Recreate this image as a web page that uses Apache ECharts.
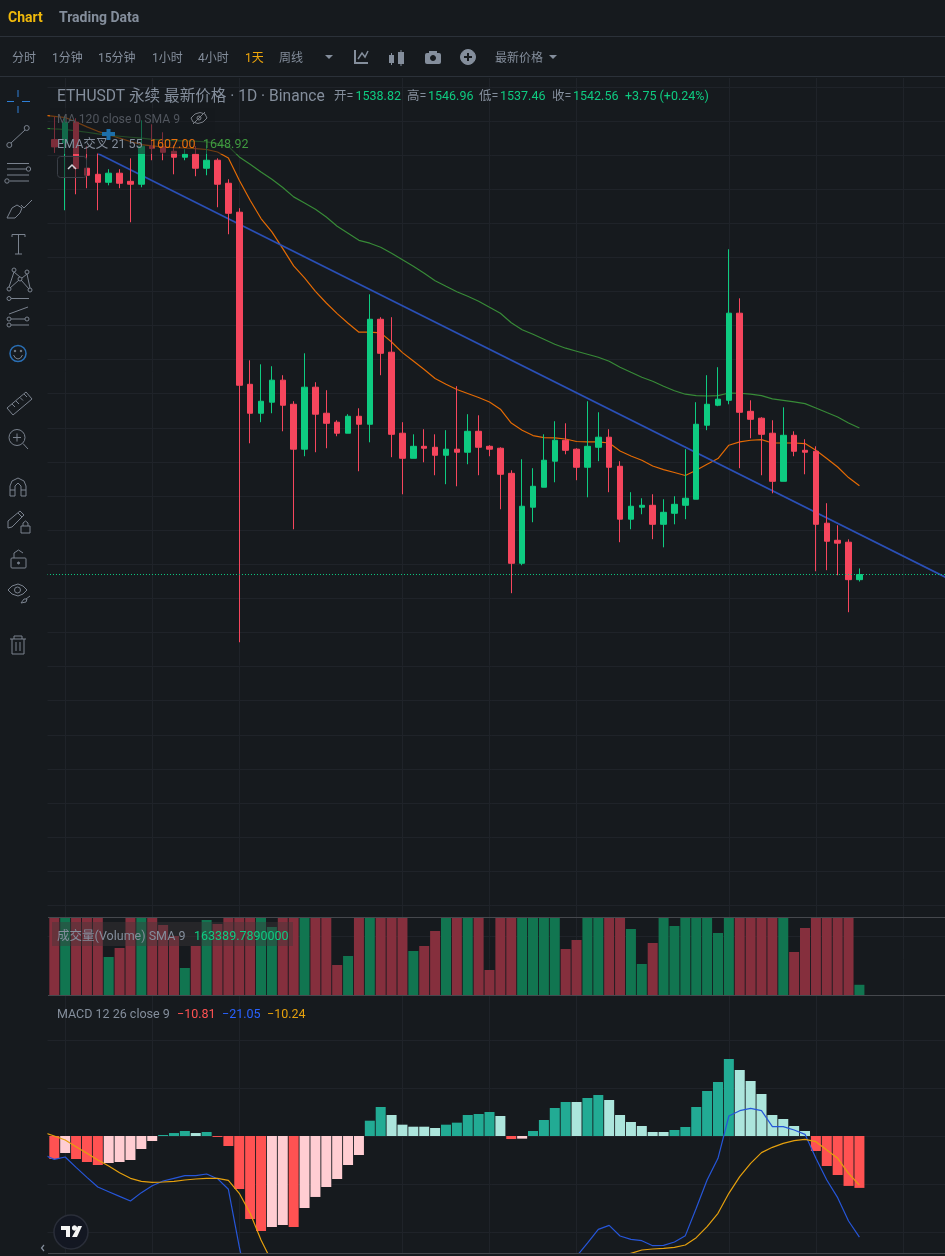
<!DOCTYPE html>
<html lang="zh">
<head>
<meta charset="utf-8"/>
<title>ETHUSDT</title>
<script src="https://cdn.jsdelivr.net/npm/echarts@6/dist/echarts.min.js"></script>
<style>
    html, body { margin: 0; height: 100%; background: #161A1E; }
    #chart { width: 945px; height: 1256px; }
</style>
</head>
<body>
<div id="chart"></div>
<script>
// 84 slots: one hidden behind the tool bar, 75 daily candles, the rest is empty space on the right
var categories = []
for (var n = 0; n < 84; n++) categories.push(String(n))

var opens = [1858.2,1855.8,1870.8,1837.4,1833.0,1827.2,1833.8,1827.9,1825.8,1853.4,1852.9,1849.7,1845.4,1847.5,1837.4,1843.2,1826.5,1805.5,1680.6,1659.6,1667.6,1683.6,1666.1,1633.5,1678.5,1659.6,1653.1,1645.1,1657.4,1651.6,1727.8,1703.9,1645.1,1626.9,1635.6,1634.9,1629.1,1633.5,1631.3,1646.5,1635.6,1634.2,1616.0,1550.7,1591.4,1605.9,1624.8,1640.0,1633.5,1620.4,1634.9,1642.2,1621.1,1582.7,1591.4,1592.8,1579.0,1587.0,1592.8,1597.2,1650.9,1665.4,1669.0,1732.2,1661.0,1656.0,1645.1,1610.2,1643.6,1632.7,1632.0,1579.8,1567.4,1566.0,1538.82]
var closes = [1852.9,1870.8,1837.2,1832.3,1827.2,1833.8,1826.5,1825.8,1853.4,1851.7,1849.0,1845.4,1847.5,1837.4,1843.2,1825.8,1804.7,1679.9,1659.6,1668.3,1683.6,1665.4,1633.5,1678.5,1658.9,1652.3,1645.1,1657.4,1651.6,1727.8,1703.1,1644.3,1626.9,1635.6,1634.2,1629.1,1633.5,1631.3,1646.5,1634.9,1633.5,1615.3,1550.7,1592.1,1606.6,1625.5,1640.0,1632.7,1620.4,1635.6,1642.2,1620.4,1582.7,1592.1,1592.8,1579.0,1587.7,1593.5,1597.9,1651.6,1666.1,1669.8,1732.2,1660.3,1655.2,1644.3,1610.2,1643.6,1632.0,1631.3,1579.0,1566.7,1565.3,1538.82,1542.56]
var lows = [1848.5,1806.9,1818.5,1822.9,1806.9,1825.0,1822.9,1798.2,1823.6,1843.2,1843.2,1833.0,1843.2,1831.6,1832.3,1809.1,1789.5,1493.4,1637.8,1653.1,1659.6,1646.5,1575.4,1628.4,1631.3,1634.2,1642.9,1645.1,1617.5,1638.5,1687.2,1627.7,1600.8,1626.9,1624.0,1614.6,1608.1,1606.6,1622.6,1614.6,1628.4,1589.9,1529.0,1549.3,1580.5,1605.9,1609.5,1629.8,1611.0,1598.6,1624.8,1602.3,1566.0,1575.4,1586.3,1568.2,1562.3,1579.0,1582.7,1597.2,1647.3,1664.7,1666.1,1619.7,1641.4,1614.6,1601.5,1610.2,1628.4,1615.3,1544.9,1545.7,1542.0,1515.2,1537.46]
var highs = [1874.6,1875.1,1873.7,1853.4,1848.5,1836.7,1836.7,1844.6,1872.2,1869.3,1863.5,1854.1,1851.2,1853.4,1854.1,1844.6,1829.4,1808.4,1698.0,1695.1,1693.7,1687.2,1668.3,1703.1,1682.1,1676.3,1654.5,1658.9,1663.2,1745.9,1729.3,1729.3,1653.1,1644.3,1648.0,1644.3,1647.3,1679.2,1658.9,1658.1,1636.4,1634.9,1618.2,1626.2,1619.7,1644.3,1653.8,1652.3,1634.2,1668.3,1660.3,1648.0,1624.8,1602.3,1597.9,1600.8,1597.2,1599.4,1633.5,1667.6,1687.2,1693.0,1778.6,1743.0,1669.0,1656.7,1654.5,1663.9,1646.5,1640.7,1635.6,1594.3,1578.3,1568.1,1546.96]

// lines start one slot earlier than the candles, the page cuts them at the pane edge
var ema21 = [1876.0,1875.1,1874.2,1871.0,1867.4,1864.2,1861.8,1859.2,1856.8,1854.6,1853.6,1852.8,1852.4,1852.1,1851.7,1851.0,1849.2,1844.9,1828.7,1814.2,1800.9,1791.2,1779.1,1766.5,1757.8,1748.1,1739.6,1731.9,1724.9,1718.4,1718.4,1717.9,1711.3,1703.6,1697.5,1691.3,1684.8,1680.6,1676.8,1673.9,1671.0,1667.8,1662.5,1652.5,1647.3,1643.4,1641.9,1641.7,1640.9,1639.1,1638.8,1638.8,1638.0,1632.2,1628.6,1625.5,1621.3,1618.7,1616.6,1614.4,1618.2,1622.6,1626.7,1636.4,1638.8,1640.0,1640.5,1638.0,1638.0,1638.0,1637.6,1632.7,1626.7,1620.6,1612.9,1607.0]
var ema55 = [1866.4,1865.9,1865.5,1864.5,1863.5,1862.3,1861.3,1860.6,1859.9,1859.2,1858.4,1857.9,1857.5,1857.2,1857.0,1856.5,1855.3,1853.3,1845.6,1840.3,1834.7,1829.4,1823.4,1816.6,1812.2,1807.6,1802.0,1795.3,1790.2,1785.1,1783.0,1780.1,1775.7,1771.0,1766.3,1761.2,1755.7,1751.7,1747.8,1744.5,1740.9,1736.5,1732.2,1725.3,1720.2,1716.9,1713.3,1709.7,1706.8,1704.6,1702.4,1700.2,1697.3,1693.0,1689.3,1685.7,1682.8,1679.2,1675.9,1673.4,1672.4,1672.1,1672.4,1674.3,1674.1,1673.4,1672.4,1670.0,1669.0,1667.8,1666.6,1663.4,1660.1,1656.9,1652.5,1648.92]

// hand drawn trend line: [slot, price]
var trendLine = [[5, 1848.1], [83, 1540.3]]
var lastPrice = 1542.56

// clipped bars at the pane top are a guess, only their height in the pane is readable
var volumes = [1300000,1300000,1300000,1300000,1300000,608000,752000,1300000,1300000,1300000,1120000,944000,432000,784000,1200000,1136000,1300000,1300000,1300000,1300000,1088000,1300000,1300000,1300000,1300000,1300000,480000,624000,1300000,1300000,1300000,1300000,1300000,704000,784000,1024000,1300000,1300000,1300000,1300000,400000,1300000,1300000,1300000,1300000,1300000,1300000,736000,880000,1300000,1300000,1300000,1300000,1056000,496000,832000,1300000,1104000,1300000,1300000,1300000,992000,1300000,1300000,1300000,1300000,1300000,1300000,688000,1072000,1300000,1300000,1300000,1300000,163390]

var macdHist = [-4.79,-3.54,-4.79,-5.42,-6.04,-5.63,-5.42,-5.0,-2.71,-1.04,0.21,0.62,1.04,0.62,0.83,-0.2,-2.08,-11.04,-17.3,-19.8,-18.96,-18.54,-18.96,-15.0,-12.7,-10.63,-8.96,-6.04,-3.96,3.19,6.04,4.38,2.36,1.94,1.94,1.67,2.36,2.78,4.38,4.58,5.0,4.17,-0.63,-0.55,1.04,3.33,5.83,7.08,7.08,7.92,8.54,7.5,4.38,2.92,2.08,0.83,0.83,1.25,1.88,6.04,9.38,11.25,16.04,13.75,11.46,8.75,4.38,3.54,2.08,1.04,-3.13,-6.25,-8.13,-10.4,-10.81]
var macdLine = [-3.9,-4.86,-4.38,-6.53,-8.61,-10.63,-11.6,-12.57,-13.54,-11.8,-10.35,-9.38,-8.82,-8.26,-8.26,-7.92,-8.89,-11.1,-23.06,-33.4,-41.5,-45.2,-48.5,-52.7,-52.5,-52.7,-52.8,-53,-51.2,-50,-42.2,-38.2,-38.9,-40.4,-40.5,-40,-40,-38.8,-37.9,-35.4,-34.3,-32.9,-32,-37.6,-37.5,-35.7,-32.7,-29,-26.3,-25.07,-22.3,-19.44,-18.61,-20.83,-21.53,-21.81,-22.85,-22.78,-22.08,-20.76,-15.07,-9.17,-4.65,4.17,5.28,5.76,5.28,1.94,1.94,1.25,0.35,-4.65,-9.17,-12.85,-17.71,-21.05]
var macdSignal = [0.76,0,-0.83,-2.22,-3.61,-5,-6.25,-7.64,-8.82,-9.44,-9.65,-9.58,-9.44,-9.17,-8.96,-8.82,-8.82,-9.24,-11.94,-16.11,-21.67,-26.2,-30,-33.7,-37.5,-40,-42.2,-44,-45.2,-46,-45.4,-44.2,-43.3,-42.8,-42.4,-42,-41.7,-41.2,-40.7,-39.8,-38.9,-37.9,-37.1,-37,-36.9,-36.7,-36,-34.8,-33.4,-32,-30.2,-28,-26.1,-25.2,-24.44,-23.75,-23.54,-23.4,-23.19,-22.71,-21.18,-18.89,-16.11,-11.94,-8.47,-5.69,-3.47,-2.36,-1.53,-0.97,-0.69,-1.18,-2.92,-4.65,-7.78,-10.24]

// slots that carry a vertical grid line
var gridSlots = [2, 10, 18, 33, 41, 49, 63, 71, 79]

var UP = '#0ECB81', DOWN = '#F6465D', BG = '#161A1E', GRID = '#1F2329', GREY = '#848E9C', ICON = '#7A828E'
var FONT = 'Roboto, "Noto Sans CJK SC", sans-serif'

var chart = echarts.init(document.getElementById('chart'), null, { renderer: 'canvas', width: 945, height: 1256 })

var candleData = [['-', '-', '-', '-']].concat(opens.map(function (o, i) { return [o, closes[i], lows[i], highs[i]] }))
var volumeData = ['-'].concat(volumes.map(function (v, i) {
    return { value: v, itemStyle: { color: closes[i] >= opens[i] ? '#117550' : '#852F3D' } }
}))
var histData = ['-'].concat(macdHist.map(function (v, i) {
    var prev = i > 0 ? macdHist[i - 1] : 0
    var color
    if (v >= 0) color = v > prev ? '#22AB94' : '#ACE5DC'
    else color = v < prev ? '#FF5252' : '#FFCDD2'
    return { value: v, itemStyle: { color: color } }
}))

function xAxis(idx) {
    return { type: 'category', gridIndex: idx, data: categories, show: false, boundaryGap: true }
}

function splitLine(extra) {
    return Object.assign({ show: true, lineStyle: { color: GRID, width: 1 } }, extra || {})
}

// grids run past the page on purpose, so no squeezing into the container
function pane(top, height) {
    return { left: 37.98, top: top, width: 913.92, height: height, outerBoundsMode: 'none' }
}

// chrome helpers, everything on top of the series
function text(t, x, y, font, fill, extra) {
    return Object.assign({
        type: 'text', z: 100, silent: true,
        style: { text: t, x: x, y: y + 3.5, font: font, fill: fill, verticalAlign: 'middle' }
    }, extra || {})
}
function poly(points, stroke, width) {
    return { type: 'polyline', z: 100, silent: true, shape: { points: points }, style: { stroke: stroke || ICON, lineWidth: width || 1, fill: null } }
}
function fillPoly(points, fill) {
    return { type: 'polygon', z: 100, silent: true, shape: { points: points }, style: { fill: fill } }
}
function circle(cx, cy, r, stroke, fill, width) {
    return { type: 'circle', z: 100, silent: true, shape: { cx: cx, cy: cy, r: r }, style: { stroke: stroke || ICON, fill: fill || null, lineWidth: width || 1 } }
}
function rect(x, y, w, h, fill, stroke, r) {
    return { type: 'rect', z: 100, silent: true, shape: { x: x, y: y, width: w, height: h, r: r || 0 }, style: { fill: fill || null, stroke: stroke || null, lineWidth: 1 } }
}

var B12 = '12px ' + FONT
var L12 = '12.5px ' + FONT
var graphics = [
    // masks and pane borders
    rect(0, 0, 945, 77, BG),
    rect(0, 77, 47.5, 1179, BG),
    rect(0, 1253, 945, 3, BG),
    rect(0, 36, 945, 1, '#2B3139'),
    rect(0, 76, 945, 1, '#2B3139'),
    rect(48, 917, 897, 1, '#45484D'),
    rect(48, 995, 897, 1, '#45484D'),
    rect(48, 1253, 897, 1, '#45484D'),

    // legend backgrounds dim what runs under them
    rect(50, 108, 165, 25, 'rgba(22,26,30,0.55)'),
    rect(50, 133, 200, 21, 'rgba(22,26,30,0.55)'),
    rect(57.5, 156.5, 29, 21, 'rgba(22,26,30,0.55)', '#3A3F47', 3),
    rect(52, 922, 241, 24, 'rgba(62,54,58,0.42)'),

    // top tabs
    text('Chart', 8, 15, 'bold 14px ' + FONT, '#F0B90B'),
    text('Trading Data', 59, 15, 'bold 14px ' + FONT, GREY),

    // toolbar
    text('分时', 12, 55.5, B12, GREY),
    text('1分钟', 52, 55.5, B12, GREY),
    text('15分钟', 98, 55.5, B12, GREY),
    text('1小时', 152, 55.5, B12, GREY),
    text('4小时', 198, 55.5, B12, GREY),
    text('1天', 245, 55.5, B12, '#F0A70B'),
    text('周线', 279, 55.5, B12, GREY),
    fillPoly([[325, 55], [333, 55], [329, 59]], GREY),
    text('最新价格', 495, 55.5, B12, GREY),
    fillPoly([[549, 55], [557, 55], [553, 59]], GREY),

    // chart type icons
    poly([[355, 50], [355, 63], [368, 63]], GREY, 2),
    poly([[358, 59], [362, 53], [365, 57], [368, 51]], GREY, 1.5),
    rect(389, 55, 5, 8, GREY), rect(398, 52, 6, 12, GREY),
    rect(391, 53, 1, 12, GREY), rect(400.5, 50, 1, 16, GREY),
    rect(425, 53, 16, 11, GREY, null, 2), rect(429, 51, 8, 3, GREY),
    circle(433, 58, 2.5, BG, BG),
    circle(468, 57, 7.5, GREY, GREY),
    rect(464, 56, 8, 2, BG), rect(467, 53, 2, 8, BG),

    // chart title row
    text('ETHUSDT 永续 最新价格 · 1D · Binance', 57, 93.5, '15.6px ' + FONT, GREY),
    text('开=', 334, 93.5, L12, GREY), text('1538.82', 355.5, 93.5, L12, UP),
    text('高=', 407, 93.5, L12, GREY), text('1546.96', 428, 93.5, L12, UP),
    text('低=', 479, 93.5, L12, GREY), text('1537.46', 500, 93.5, L12, UP),
    text('收=', 552, 93.5, L12, GREY), text('1542.56', 573, 93.5, L12, UP),
    text('+3.75 (+0.24%)', 625, 93.5, L12, UP),

    // indicator legends
    text('MA 120 close 0 SMA 9', 57, 116, '12.2px ' + FONT, '#50555D'),
    poly([[191, 118], [195, 114], [200, 112.5], [205, 114], [207, 118], [203, 122], [198, 123.5], [193, 122], [191, 118]], '#7A7F87'),
    poly([[193, 124], [205, 112]], '#7A7F87'),
    circle(199, 118, 2, '#7A7F87'),
    text('EMA交叉 21 55', 57, 141.5, L12, GREY),
    text('1607.00', 150, 141.5, L12, '#E8700C'),
    text('1648.92', 203, 141.5, L12, '#3F9A3F'),
    poly([[68, 169], [72, 165], [76, 169]], '#D0D3D8', 1.5),
    text('成交量(Volume) SMA 9', 57, 933.5, L12, GREY),
    text('163389.7890000', 194, 933.5, L12, UP),
    text('MACD 12 26 close 9', 57, 1011.5, L12, GREY),
    text('−10.81', 177, 1011.5, L12, '#FF5252'),
    text('−21.05', 222, 1011.5, L12, '#2962FF'),
    text('−10.24', 267, 1011.5, L12, '#E5A00D'),

    // blue plus marker
    rect(102, 132, 13, 4, '#1D6FA8'), rect(106.5, 129, 4, 11, '#1D6FA8'),

    // drawing tools on the left
    poly([[7, 101.5], [14, 101.5]], '#2E7FD6'), poly([[22, 101.5], [30, 101.5]], '#2E7FD6'),
    poly([[18, 90], [18, 97]], '#2E7FD6'), poly([[18, 106], [18, 113]], '#2E7FD6'),

    circle(9.3, 145, 2.5), circle(26.7, 128, 2.5), poly([[11, 143], [25, 130]]),

    poly([[7, 163.5], [29, 163.5]]), poly([[7, 169], [26, 169]]), circle(28.5, 169, 2.2),
    poly([[7, 175], [29, 175]]), poly([[10, 181], [29, 181]]), circle(7, 181, 2.2),

    poly([[7, 218], [12, 208], [17, 205], [22, 208], [20, 213], [15, 218], [7, 218]]),
    poly([[21, 205], [24, 208], [32, 200]]),

    poly([[12, 237], [12, 234.5], [25, 234.5], [25, 237]]), poly([[18.5, 234.5], [18.5, 254]]), poly([[15, 254], [22, 254]]),

    circle(14, 270, 2), circle(27, 272, 2), circle(9, 289, 2), circle(30, 290, 2), circle(20, 279, 2),
    poly([[14, 272], [9, 287]]), poly([[27, 274], [30, 288]]), poly([[14, 272], [20, 277]]), poly([[27, 274], [22, 278]]), poly([[10, 288], [19, 280]]), poly([[21, 280], [29, 289]]),

    circle(9, 298.5, 2), poly([[11, 298.5], [29, 298.5]]),
    poly([[9, 314], [28, 307]]),
    circle(9, 319, 2), circle(27, 319, 2), poly([[11, 319], [25, 319]]),
    circle(9, 325, 2), poly([[11, 325], [29, 325]]),

    circle(18, 353.5, 8, '#2A6FB5', null, 1.5),
    circle(15, 351, 0.8, ICON, ICON), circle(21, 351, 0.8, ICON, ICON),
    poly([[13.5, 355], [15.5, 358], [18, 359], [20.5, 358], [22.5, 355]]),

    poly([[7, 408], [26, 392], [32, 399], [13, 415], [7, 408]]),
    poly([[12, 404], [15, 407]]), poly([[16, 401], [19, 404]]), poly([[20, 397.5], [23, 400.5]]), poly([[24, 394], [27, 397]]),

    circle(17, 437.5, 8), poly([[23, 443.5], [28, 449]]), poly([[13, 437.5], [21, 437.5]]), poly([[17, 433.5], [17, 441.5]]),

    poly([[10, 496], [10, 486], [12, 481], [18, 478], [24, 481], [26, 486], [26, 496], [21, 496], [21, 486], [18, 483], [15, 486], [15, 496], [10, 496]]),
    poly([[10, 490], [15, 490]]), poly([[21, 490], [26, 490]]),

    poly([[8, 521], [20, 511], [24, 515], [12, 527], [8, 528], [8, 521]]), poly([[18, 513], [22, 517]]),
    rect(21, 526, 9, 7, null, ICON), poly([[23, 526], [23, 523], [25.5, 521], [28, 523], [28, 526]]),

    rect(11, 558, 15, 10, null, ICON, 1), poly([[14, 558], [14, 553], [18.5, 550], [23, 553]]), circle(18.5, 563, 1, ICON, ICON),

    poly([[8, 590], [12, 586], [18, 584], [23, 586], [27, 590], [23, 594], [18, 596], [12, 594], [8, 590]]), circle(17.5, 590, 3),
    poly([[21, 603], [24, 599], [27, 599], [26, 602], [21, 603]]), poly([[26, 599], [30, 596]]),

    poly([[10, 639], [26, 639]]), poly([[14, 639], [14, 636], [22, 636], [22, 639]]),
    poly([[12, 639], [12, 654], [24, 654], [24, 639]]), poly([[16, 642], [16, 651]]), poly([[20, 642], [20, 651]]),

    // logo and collapse arrow
    circle(71, 1232, 17, '#2A2E39', '#131722', 1.5),
    fillPoly([[61, 1226], [70, 1226], [70, 1237], [66, 1237], [66, 1230], [61, 1230]], '#F5F5F5'),
    circle(74.5, 1228, 2.2, '#F5F5F5', '#F5F5F5'),
    fillPoly([[78, 1226], [82, 1226], [77, 1237], [72, 1237]], '#F5F5F5'),
    poly([[44, 1245], [41.5, 1248], [44, 1251]], GREY, 1.2)
]

chart.setOption({
    backgroundColor: BG,
    animation: false,
    tooltip: { show: false },
    grid: [
        pane(78, 1175),     // vertical grid lines
        pane(86.8, 818.5),  // price
        pane(917, 78),      // volume
        pane(996, 284)      // macd, bottom runs off the page
    ],
    xAxis: [xAxis(0), xAxis(1), xAxis(2), xAxis(3)],
    yAxis: [
        { type: 'value', gridIndex: 0, min: 0, max: 1, show: false, splitLine: { show: false } },
        {
            type: 'value', gridIndex: 1, min: 1302.5, max: 1896.5, interval: 24.75, scale: true,
            axisLine: { show: false }, axisTick: { show: false }, axisLabel: { show: false }, splitLine: splitLine()
        },
        {
            type: 'value', gridIndex: 2, min: 0, max: 1248000, interval: 944000,
            axisLine: { show: false }, axisTick: { show: false }, axisLabel: { show: false },
            splitLine: splitLine({ showMinLine: false, showMaxLine: false })
        },
        {
            type: 'value', gridIndex: 3, min: -30, max: 29.17, interval: 10,
            axisLine: { show: false }, axisTick: { show: false }, axisLabel: { show: false },
            splitLine: splitLine({ showMinLine: false, showMaxLine: false })
        }
    ],
    series: [
        {
            type: 'line', xAxisIndex: 0, yAxisIndex: 0, data: [], z: 0, silent: true,
            markLine: {
                z: 0, silent: true, symbol: 'none', animation: false, label: { show: false },
                lineStyle: { color: GRID, width: 1, type: 'solid' },
                data: gridSlots.map(function (i) { return { xAxis: i } })
            }
        },
        { name: 'EMA21', type: 'line', xAxisIndex: 1, yAxisIndex: 1, data: ema21, showSymbol: false, z: 1, lineStyle: { color: '#E36A04', width: 1.2 } },
        { name: 'EMA55', type: 'line', xAxisIndex: 1, yAxisIndex: 1, data: ema55, showSymbol: false, z: 1, lineStyle: { color: '#378A37', width: 1.2 } },
        { name: 'trend', type: 'line', xAxisIndex: 1, yAxisIndex: 1, data: trendLine, showSymbol: false, z: 1, lineStyle: { color: '#2A4FB5', width: 1.8 } },
        {
            name: 'K', type: 'candlestick', xAxisIndex: 1, yAxisIndex: 1, data: candleData, z: 3, barWidth: 6,
            itemStyle: { color: UP, color0: DOWN, borderColor: UP, borderColor0: DOWN, borderWidth: 1 },
            markLine: {
                silent: true, symbol: 'none', animation: false, label: { show: false },
                lineStyle: { color: UP, width: 1, type: [1, 2] },
                data: [{ yAxis: lastPrice }]
            }
        },
        { name: 'Volume', type: 'bar', xAxisIndex: 2, yAxisIndex: 2, data: volumeData, barWidth: 10 },
        { name: 'Hist', type: 'bar', xAxisIndex: 3, yAxisIndex: 3, data: histData, barWidth: 10, z: 2 },
        { name: 'MACD', type: 'line', xAxisIndex: 3, yAxisIndex: 3, data: macdLine, showSymbol: false, z: 3, lineStyle: { color: '#2656D9', width: 1.2 } },
        { name: 'Signal', type: 'line', xAxisIndex: 3, yAxisIndex: 3, data: macdSignal, showSymbol: false, z: 3, lineStyle: { color: '#E5A00D', width: 1.2 } }
    ],
    graphic: { elements: graphics }
})

window.addEventListener('resize', function () { chart.resize() })
</script>
</body>
</html>
